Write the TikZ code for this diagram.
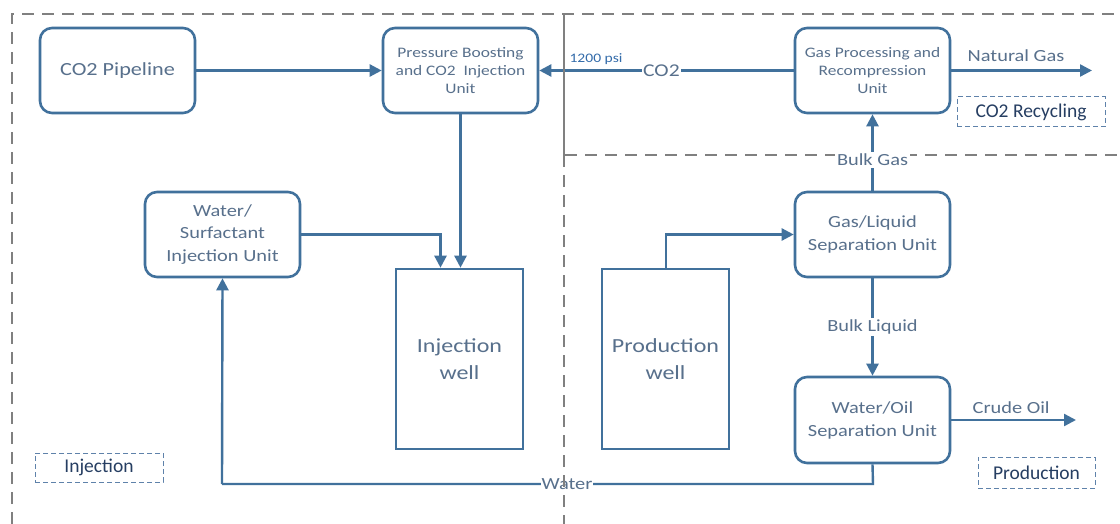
\documentclass[tikz,border=0pt]{standalone}
\usepackage{fontspec}
\setmainfont{Carlito}
\newfontfamily\dfont{Carlito}[FakeStretch=1.2]
\usetikzlibrary{arrows.meta}
\definecolor{boxc}{RGB}{65,113,156}
\definecolor{txtc}{RGB}{88,112,140}
\definecolor{lblc}{RGB}{38,62,98}
\definecolor{psic}{RGB}{52,108,170}
\definecolor{regc}{RGB}{128,128,128}
\definecolor{lbox}{RGB}{95,130,170}
\tikzset{
  unit/.style={draw=boxc, line width=2.6pt, rounded corners=12pt, inner sep=0pt,
    minimum width=155pt, minimum height=85pt, align=center, text=txtc},
  well/.style={draw=boxc, line width=2.6pt, inner sep=0pt,
    minimum width=127pt, minimum height=180pt, align=center, text=txtc,
    font=\dfont\fontsize{20}{27}\selectfont},
  tag/.style={draw=lbox, line width=1pt, dash pattern=on 5pt off 3pt, inner sep=0pt,
    text=lblc, font=\fontsize{19.5}{22}\selectfont},
  flow/.style={draw=boxc, line width=2.4pt, -{Triangle[length=12pt,width=12pt]}},
  plain/.style={draw=boxc, line width=2.4pt},
  flowlbl/.style={text=txtc, font=\dfont\fontsize{17}{20}\selectfont, inner sep=1pt},
  region/.style={draw=regc, line width=2.6pt, dash pattern=on 12pt off 8pt},
}
\begin{document}
\begin{tikzpicture}[x=1pt,y=-1pt]
\useasboundingbox[fill=white] (0,0) rectangle (1120,524);
% regions (behind)
\draw[region] (12,524) -- (12,14) -- (1120,14);
\draw[region] (565,155) -- (1120,155);
% units
\node[unit, font=\dfont\fontsize{18.5}{22}\selectfont] (pipe) at (117.5,70.5) {CO2 Pipeline};
\node[unit, font=\dfont\fontsize{14.5}{18}\selectfont] (pb) at (460.5,70.5) {Pressure Boosting\\and CO2 \ Injection\\Unit};
\node[unit, font=\dfont\fontsize{14.5}{18}\selectfont] (gp) at (872.5,70.5) {Gas Processing and\\Recompression\\Unit};
\node[unit, font=\dfont\fontsize{17}{22.5}\selectfont] (ws) at (222.5,234.5) {Water/\\Surfactant\\Injection Unit};
\node[unit, font=\dfont\fontsize{17}{23}\selectfont] (gl) at (872.5,234.5) {Gas/Liquid\\Separation Unit};
\node[unit, font=\dfont\fontsize{17}{23}\selectfont, minimum height=86pt] (wo) at (872.5,420) {Water/Oil\\Separation Unit};
\node[well] (iw) at (459.5,359) {Injection\\well};
\node[well] (pw) at (665.5,359) {Production\\well};
% tags
\node[tag, minimum width=128pt, minimum height=29pt] (tinj) at (99,467.5) {Injection};
\node[tag, minimum width=148pt, minimum height=30pt] (trec) at (1031,112) {CO2 Recycling};
\node[tag, minimum width=117pt, minimum height=31pt] (tprod) at (1036.5,472.5) {Production};
% free ends
\coordinate (ng) at (1092,70.5);
\coordinate (co) at (1076,420);
\coordinate (wr) at (873,484);
\coordinate (wl) at (222,484);
% connectors
\draw[flow] (pipe) -- (pb);
\draw[flow] (gp) -- node[pos=0.52, fill=white, inner sep=1pt, text=txtc, font=\dfont\fontsize{18}{20}\selectfont] (co2) {CO2} (pb);
\node[text=psic, font=\dfont\fontsize{13}{15}\selectfont, inner sep=0pt] (psi) at (596,59.5) {1200 psi};
\draw[flow] (gp) -- node[flowlbl, above=7pt, pos=0.46] (ngl) {Natural Gas} (ng);
\draw[flow] (pb.south) -- (pb.south |- iw.north);
\draw[flow] (ws.east) -| ([xshift=-19pt]iw.north);
\draw[flow] (gl) -- (gp);
\node[flowlbl, fill=white, inner sep=2pt] (bg) at (872.5,160) {Bulk Gas};
\draw[flow] ([xshift=0.5pt]pw.north) |- (gl.west);
\draw[flow] (gl) -- node[flowlbl, fill=white, inner sep=2pt, pos=0.5] (bl) {Bulk Liquid} (wo);
\draw[flow] (wo) -- node[flowlbl, above=4pt, pos=0.48] (col) {Crude Oil} (co);
\draw[plain] (wo.south) -- (wr) -- node[flowlbl, fill=white, inner sep=1pt, pos=0.47] (wat) {Water} (wl);
\draw[flow] (wl) -- (ws.south);
% vertical divider (on top)
\draw[draw=regc, line width=2.6pt] (564,14) -- (564,155);
\draw[region] (564,155) -- (564,524);
\end{tikzpicture}
\end{document}
